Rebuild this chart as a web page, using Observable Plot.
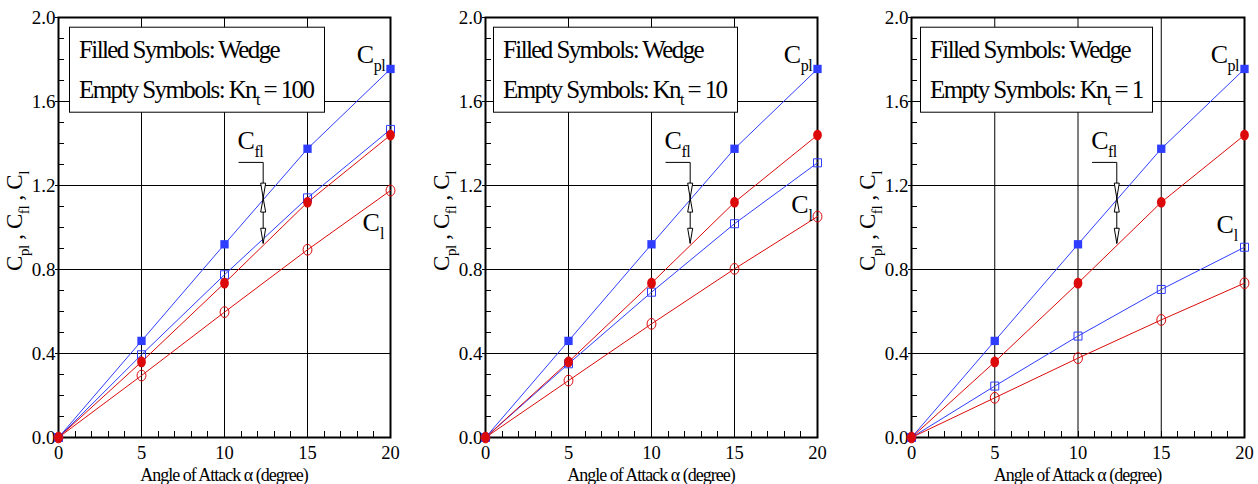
<!DOCTYPE html>
<html>
<head>
<meta charset="utf-8">
<script src="https://cdn.jsdelivr.net/npm/d3@7"></script>
<script src="https://cdn.jsdelivr.net/npm/@observablehq/plot@0.6"></script>
<style>
  html, body { margin: 0; padding: 0; background: #fff; }
  #row { display: flex; width: 1258px; height: 484px; overflow: hidden; }
  #row svg { flex: none; }
</style>
</head>
<body>
<div id="row"></div>
<script>
// Angle of attack (degrees)
const alpha = [0, 5, 10, 15, 20];

// Wedge (filled symbols), same in every panel
const cplWedge = [0, 0.46, 0.92, 1.375, 1.755];
const cflWedge = [0, 0.36, 0.735, 1.12, 1.44];

// Finite-thickness plates (empty symbols)
const cplKn100 = [0, 0.394, 0.775, 1.141, 1.467];
const clKn100  = [0, 0.295, 0.597, 0.894, 1.176];
const cplKn10  = [0, 0.351, 0.692, 1.018, 1.308];
const clKn10   = [0, 0.271, 0.541, 0.803, 1.052];
const cplKn1   = [0, 0.245, 0.483, 0.705, 0.906];
const clKn1    = [0, 0.189, 0.378, 0.560, 0.735];

const knLabels = ["100", "10", "1"];

// Axis ticks
const xTicks = [0, 5, 10, 15, 20];
const yTicks = [0, 0.4, 0.8, 1.2, 1.6, 2.0];
const xGrid = [5, 10, 15];
const yGrid = [0.4, 0.8, 1.2, 1.6];
const xMinor = d3.range(1, 20);
const yMinor = d3.range(1, 20).map(i => i / 10);

const BLUE = "#2f3dff";
const RED = "#dc0a0a";
const SERIF = "'Liberation Serif', 'Times New Roman', Times, serif";

// Custom symbols: square and slightly tall ellipse
const squareSym = {
  draw(ctx, size) {
    const h = Math.sqrt(size / Math.PI) * 0.8;
    ctx.moveTo(-h, -h); ctx.lineTo(h, -h); ctx.lineTo(h, h); ctx.lineTo(-h, h); ctx.closePath();
  }
};
const ellipseSym = {
  draw(ctx, size) {
    const r = Math.sqrt(size / Math.PI);
    const rx = r * 0.82, ry = r, k = 0.5523;
    ctx.moveTo(rx, 0);
    ctx.bezierCurveTo(rx, ry * k, rx * k, ry, 0, ry);
    ctx.bezierCurveTo(-rx * k, ry, -rx, ry * k, -rx, 0);
    ctx.bezierCurveTo(-rx, -ry * k, -rx * k, -ry, 0, -ry);
    ctx.bezierCurveTo(rx * k, -ry, rx, -ry * k, rx, 0);
    ctx.closePath();
  }
};
// Narrow arrowheads with the tip at the anchor point
const headDown = {
  draw(ctx) { ctx.moveTo(0, 0); ctx.lineTo(-2.5, -15); ctx.lineTo(2.5, -15); ctx.closePath(); }
};
const headUp = {
  draw(ctx) { ctx.moveTo(0, 0); ctx.lineTo(-2.5, 14); ctx.lineTo(2.5, 14); ctx.closePath(); }
};

// Text with subscripts: parts = [[string, isSubscript], ...]
function rich(parent, x, y, parts, {size = 26, subSize = 16, drop = 8, anchor = "start", spacing = 0} = {}) {
  const t = parent.append("text")
    .attr("x", x).attr("y", y)
    .attr("font-family", SERIF)
    .attr("font-size", size)
    .attr("text-anchor", anchor)
    .attr("letter-spacing", spacing)
    .attr("fill", "black");
  let cur = 0;
  for (const [s, sub] of parts) {
    const target = sub ? drop : 0;
    t.append("tspan").attr("dy", target - cur).attr("font-size", sub ? subSize : size).text(s);
    cur = target;
  }
  return t;
}

function minorTicks(index, scales, values, dims) {
  const g = d3.create("svg:g").attr("stroke", "black").attr("stroke-width", 1);
  const x0 = dims.marginLeft, yb = dims.height - dims.marginBottom;
  for (const v of yMinor) {
    const yy = Math.round(scales.y(v)) + 0.5;
    g.append("line").attr("x1", x0).attr("x2", x0 + 6).attr("y1", yy).attr("y2", yy);
  }
  for (const v of xMinor) {
    const xx = Math.round(scales.x(v)) + 0.5;
    g.append("line").attr("x1", xx).attr("x2", xx).attr("y1", yb).attr("y2", yb - 6);
  }
  return g.node();
}

function panel(cfg, i) {
  const cpl = cfg.cpl, cl = cfg.cl;

  const labels = (index, {x, y}, values, dims) => {
    const g = d3.create("svg:g");
    const midX = dims.marginLeft + (dims.width - dims.marginLeft - dims.marginRight) / 2;
    const midY = dims.marginTop + (dims.height - dims.marginTop - dims.marginBottom) / 2;

    // Series labels
    rich(g, x(18.0), y(1.78), [["C", false], ["pl", true]], {spacing: -0.5});
    rich(g, x(cfg.clAt[0]), y(cfg.clAt[1]), [["C", false], ["l", true]]);
    rich(g, x(10.82), y(1.371), [["C", false], ["fl", true]], {spacing: -0.5});

    // Axis titles
    rich(g, midX, dims.height - 3.5, [["Angle of Attack α (degree)", false]],
      {size: 18, anchor: "middle", spacing: -1.0});
    const yl = rich(g, 0, 0,
      [["C", false], ["pl", true], [" , C", false], ["fl", true], [" , C", false], ["l", true]],
      {size: 23, subSize: 15, drop: 7, anchor: "middle", spacing: -0.4});
    yl.attr("transform", `translate(${dims.marginLeft - 36},${midY - 6}) rotate(-90)`);

    // Legend box (width fitted to the text once the page is laid out)
    const bx = dims.marginLeft + cfg.boxLeft, by = dims.marginTop + 9.7;
    const box = g.append("g").attr("class", "legend-box");
    box.append("rect").attr("x", bx + 0.5).attr("y", by + 0.5).attr("width", 240).attr("height", 85)
      .attr("fill", "white").attr("stroke", "black").attr("stroke-width", 1);
    const tg = box.append("g").attr("class", "legend-text");
    rich(tg, bx + 10, by + 31.5, [["Filled Symbols: Wedge", false]], {size: 25, spacing: -1.6});
    rich(tg, bx + 10, by + 71.5, [["Empty Symbols: Kn", false], ["t", true], [" = " + knLabels[i], false]],
      {size: 25, subSize: 16, drop: 7, spacing: -1.6});
    return g.node();
  };

  return Plot.plot({
    width: cfg.width,
    height: 484,
    marginTop: 17,
    marginBottom: 47,
    marginLeft: cfg.marginLeft,
    marginRight: cfg.marginRight,
    x: {domain: [0, 20]},
    y: {domain: [0, 2]},
    style: {fontFamily: SERIF, fontSize: "18px", background: "white", overflow: "visible", color: "black"},
    marks: [
      Plot.gridX(xGrid, {stroke: "black", strokeOpacity: 1, strokeWidth: 1}),
      Plot.gridY(yGrid, {stroke: "black", strokeOpacity: 1, strokeWidth: 1}),
      minorTicks,
      Plot.axisX(xTicks, {tickSize: 0, tickPadding: 8, fontSize: 18.5, tickFormat: d => String(d), label: null}),
      Plot.axisY(yTicks, {tickSize: 3, tickPadding: 0, fontSize: 19, tickFormat: d3.format(".1f"), label: null}),
      Plot.frame({stroke: "black", strokeWidth: 2}),

      // Empty symbols: plate
      Plot.line(cpl, {x: alpha, y: cpl, stroke: BLUE, strokeWidth: 1}),
      Plot.dot(cpl, {x: alpha, y: cpl, symbol: squareSym, r: 5, stroke: BLUE, strokeWidth: 1, fill: "none"}),
      Plot.line(cl, {x: alpha, y: cl, stroke: RED, strokeWidth: 1}),
      Plot.dot(cl, {x: alpha, y: cl, symbol: ellipseSym, r: 5.4, stroke: RED, strokeWidth: 1, fill: "none"}),

      // Filled symbols: wedge
      Plot.line(cplWedge, {x: alpha, y: cplWedge, stroke: BLUE, strokeWidth: 1}),
      Plot.dot(cplWedge, {x: alpha, y: cplWedge, symbol: squareSym, r: 5.2, fill: BLUE}),
      Plot.line(cflWedge, {x: alpha, y: cflWedge, stroke: RED, strokeWidth: 1}),
      Plot.dot(cflWedge, {x: alpha, y: cflWedge, symbol: ellipseSym, r: 5.3, fill: RED}),

      // Leader for the C_fl label
      Plot.line([[10.87, 1.31], [12.33, 1.31], [12.33, 0.925]], {stroke: "black", strokeWidth: 1}),
      Plot.dot([[12.33, 1.14], [12.33, 0.925]], {symbol: headDown, r: 5, fill: "white", stroke: "black", strokeWidth: 1}),
      Plot.dot([[12.33, 1.14]], {symbol: headUp, r: 5, fill: "white", stroke: "black", strokeWidth: 1}),

      labels
    ]
  });
}

const panels = [
  {width: 427, marginLeft: 58, marginRight: 37, cpl: cplKn100, cl: clKn100, boxLeft: 11, clAt: [18.35, 0.98]},
  {width: 427, marginLeft: 58, marginRight: 37, cpl: cplKn10, cl: clKn10, boxLeft: 8, clAt: [18.45, 1.067]},
  {width: 404, marginLeft: 57, marginRight: 14, cpl: cplKn1, cl: clKn1, boxLeft: 9, clAt: [18.35, 0.971]}
];

const row = document.getElementById("row");
panels.forEach((cfg, i) => row.appendChild(panel(cfg, i)));

// Fit each legend box to its text
document.querySelectorAll(".legend-box").forEach(box => {
  const bb = box.querySelector(".legend-text").getBBox();
  const rect = box.querySelector("rect");
  const x0 = +rect.getAttribute("x");
  rect.setAttribute("width", Math.round(bb.x + bb.width + 10 - x0));
});
</script>
</body>
</html>
